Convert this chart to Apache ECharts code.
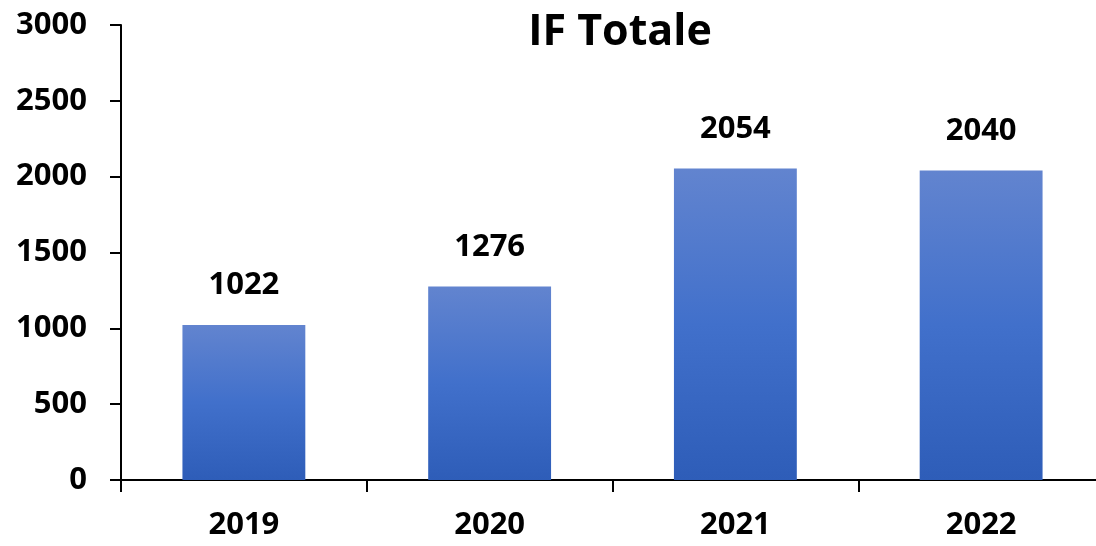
<!DOCTYPE html>
<html>
<head>
<meta charset="utf-8">
<script src="https://cdn.jsdelivr.net/npm/echarts@6/dist/echarts.min.js"></script>
<style>
  html,body{margin:0;padding:0;background:#fff;overflow:hidden;}
  #chart{width:1110px;height:546px;}
</style>
</head>
<body>
<div id="chart"></div>
<script>
var years = ["2019", "2020", "2021", "2022"];
var totals = [1022, 1276, 2054, 2040];
var yTicks = [0, 500, 1000, 1500, 2000, 2500, 3000];

var font = "'Open Sans', 'Liberation Sans', sans-serif";
// the chart box is a bit wider than the window: the last category edge sits just off-screen
var myChart = echarts.init(document.getElementById("chart"));
myChart.setOption({
  animation: false,
  title: {
    text: "IF Totale",
    left: 615,
    top: 6,
    textAlign: "center",
    textStyle: { fontFamily: font, fontWeight: "bold", fontSize: 43, color: "#000" }
  },
  grid: { left: 121, width: 983, top: 25, bottom: 66, containLabel: false },
  xAxis: {
    type: "category",
    data: years,
    axisLine: { lineStyle: { color: "#000", width: 2 } },
    axisTick: { show: true, length: 12, lineStyle: { color: "#000", width: 2 } },
    axisLabel: { margin: 30, fontFamily: font, fontWeight: "bold", fontSize: 31, color: "#000" }
  },
  yAxis: {
    type: "value",
    min: yTicks[0],
    max: yTicks[yTicks.length - 1],
    interval: 500,
    splitLine: { show: false },
    axisLine: { show: true, lineStyle: { color: "#000", width: 2 } },
    axisTick: { show: true, length: 11, lineStyle: { color: "#000", width: 2 } },
    axisLabel: {
      margin: 34, fontFamily: font, fontWeight: "bold", fontSize: 31, color: "#000",
      formatter: function (v) { return String(v); }
    }
  },
  series: [{
    type: "bar",
    data: totals,
    barWidth: "50%",
    itemStyle: {
      color: new echarts.graphic.LinearGradient(0, 0, 0, 1, [
        { offset: 0, color: "#6284cf" },
        { offset: 0.5, color: "#4170cb" },
        { offset: 1, color: "#2e5db8" }
      ])
    },
    label: {
      show: true,
      position: "top",
      distance: 24,
      fontFamily: font,
      fontWeight: "bold",
      fontSize: 31,
      color: "#000"
    }
  }]
});
</script>
</body>
</html>
